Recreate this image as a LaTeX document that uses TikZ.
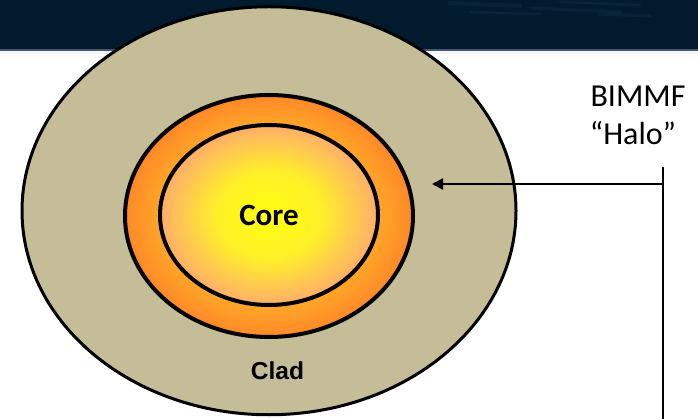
\documentclass[tikz,border=0pt]{standalone}
\usepackage{fontspec}
\setmainfont{Carlito}
\newfontfamily\arialfont{Liberation Sans}
\usetikzlibrary{arrows.meta}
\definecolor{bandnavy}{RGB}{2,26,46}
\definecolor{bandlight}{RGB}{40,75,110}
\definecolor{bandedge}{RGB}{70,88,105}
\definecolor{cladtan}{RGB}{196,189,152}
\definecolor{ringin}{RGB}{255,200,48}
\definecolor{ringmid}{RGB}{255,170,40}
\definecolor{ringout}{RGB}{255,136,40}
\definecolor{coreyel}{RGB}{255,255,16}
\definecolor{coremid}{RGB}{255,240,40}
\definecolor{corepeach}{RGB}{255,174,106}
\pgfdeclareradialshading{ringshade}{\pgfpoint{0bp}{0bp}}{%
  color(0bp)=(ringin); color(18bp)=(ringmid); color(25bp)=(ringout); color(50bp)=(ringout)}
\pgfdeclareradialshading{coreshade}{\pgfpoint{0bp}{0bp}}{%
  color(0bp)=(coreyel); color(12bp)=(coremid); color(25bp)=(corepeach); color(50bp)=(corepeach)}
\tikzset{
  layerline/.style={draw=black, line width=4pt},
  cladline/.style={draw=black, line width=3pt},
  lbl/.style={inner sep=0pt, font=\fontsize{32}{38}\selectfont},
  corelbl/.style={inner sep=0pt, font=\fontsize{31}{37}\selectfont\bfseries},
  cladlbl/.style={inner sep=0pt, font=\arialfont\fontsize{24.5}{29}\selectfont\bfseries},
  conn/.style={draw=black, line width=2pt},
}
\begin{document}
\begin{tikzpicture}[x=1pt, y=-1pt]
\useasboundingbox (0,0) rectangle (698,419);
\fill[white] (0,0) rectangle (698,419);
% top dark band
\fill[bandnavy] (0,0) rectangle (698,50);
\fill[bandedge] (0,49) rectangle (698,51);
\fill[blue!4] (0,51) rectangle (698,54);
\begin{scope}[line cap=round, opacity=0.18]
  \draw[bandlight, line width=4pt] (450,3) -- (520,6);
  \draw[bandlight, line width=3pt] (530,8) -- (620,12);
  \draw[bandlight, line width=3pt] (600,14) -- (650,16);
  \draw[bandlight, line width=2.5pt] (470,12) -- (540,14);
  \draw[bandlight, line width=2.5pt] (560,2) -- (640,5);
\end{scope}
% clad
\path[cladline, fill=cladtan] (269,210.75) ellipse [x radius=247, y radius=204];
% orange ring
\path[shading=ringshade] (269,216) ellipse [x radius=144, y radius=121];
\path[layerline] (269,216) ellipse [x radius=144, y radius=121];
% core
\path[shading=coreshade] (269,215) ellipse [x radius=109, y radius=90];
\path[layerline] (269,215) ellipse [x radius=109, y radius=90];
% labels
\node[corelbl, anchor=base] (core) at (269,226) {Core};
\node[cladlbl, anchor=base] (clad) at (277.5,379) {Clad};
\node[lbl, anchor=base] (bimmf) at (638,107) {BIMMF};
\node[lbl, anchor=base] (halo) at (633,145) {“Halo”};
% connector
\coordinate (top) at (663,167);
\coordinate (bottom) at (663,419);
\coordinate (junction) at (663,184);
\coordinate (target) at (432,184);
\draw[conn] (top) -- (bottom);
\draw[conn, -{Triangle[length=11pt, width=11pt]}] (junction) -- (target);
\end{tikzpicture}
\end{document}
